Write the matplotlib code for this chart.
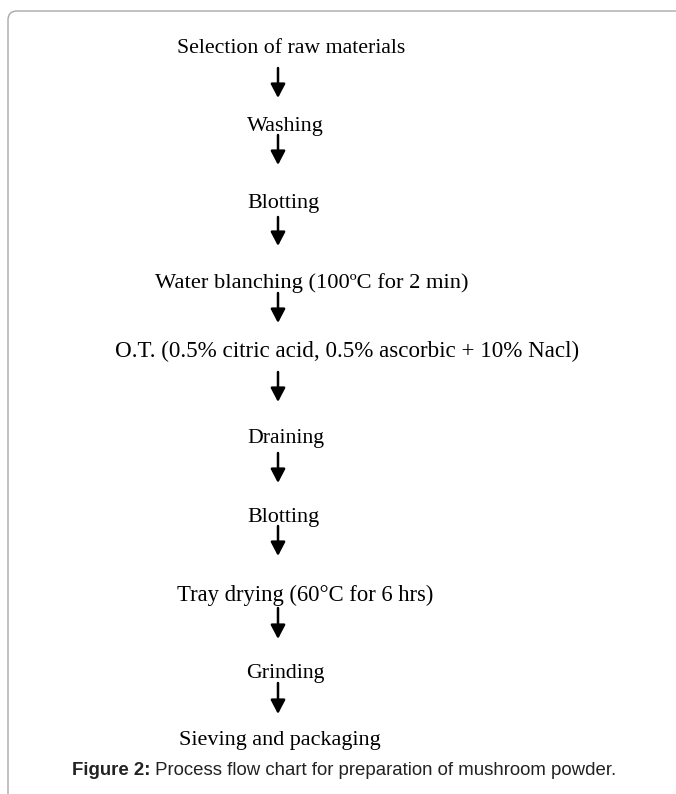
import matplotlib
matplotlib.use("Agg")
import matplotlib.pyplot as plt
from matplotlib.patches import FancyBboxPatch

# process steps, top to bottom
steps = [
    "Selection of raw materials",
    "Washing",
    "Blotting",
    "Water blanching (100ºC for 2 min)",
    "O.T. (0.5% citric acid, 0.5% ascorbic + 10% Nacl)",
    "Draining",
    "Blotting",
    "Tray drying (60°C for 6 hrs)",
    "Grinding",
    "Sieving and packaging",
]
caption_bold = "Figure 2:"
caption_rest = " Process flow chart for preparation of mushroom powder."

# layout in pixel coordinates (y grows downward)
W, H = 676, 794
step_x = [177, 247, 247, 155, 115, 247, 247, 177, 246, 179]
step_baseline = [53, 131, 208, 288, 357, 443, 522, 601, 678, 745]
step_size = [15.7, 15.9, 15.9, 16.2, 16.6, 15.6, 15.9, 16.3, 15.7, 15.9]
arrow_x = 278
arrow_top = [68, 135, 217, 293, 372, 453, 526, 608, 683]
arrow_bot = [98, 165, 246, 323, 402, 483, 556, 639, 714]

fig = plt.figure(figsize=(W / 100, H / 100), dpi=100)
ax = fig.add_axes([0, 0, 1, 1])
ax.set_xlim(0, W)
ax.set_ylim(H, 0)
ax.axis("off")

# page frame: rounded top-left corner, runs off right and bottom
frame = FancyBboxPatch((8, 11), 1000, 1000, boxstyle="round,pad=0,rounding_size=9",
                       fc="none", ec="#a8a8a8", lw=1.0)
ax.add_patch(frame)

for label, x, y, fs in zip(steps, step_x, step_baseline, step_size):
    ax.text(x, y, label, ha="left", va="baseline", fontsize=fs,
            family="Liberation Serif", color="black")

for y0, y1 in zip(arrow_top, arrow_bot):
    ax.annotate("", xy=(arrow_x, y1), xytext=(arrow_x, y0),
                arrowprops=dict(arrowstyle="-|>,head_length=0.42,head_width=0.22",
                                lw=1.8, color="black", mutation_scale=20,
                                shrinkA=0, shrinkB=0))

t1 = ax.text(72, 775, caption_bold, ha="left", va="baseline", fontsize=13.4,
             family="Liberation Sans", fontweight="bold", color="#222222")
ax.annotate(caption_rest, xy=(1, 0), xycoords=t1, ha="left", va="bottom",
            fontsize=13.4, family="Liberation Sans", color="#222222")

fig.savefig("out.png", dpi=100)
